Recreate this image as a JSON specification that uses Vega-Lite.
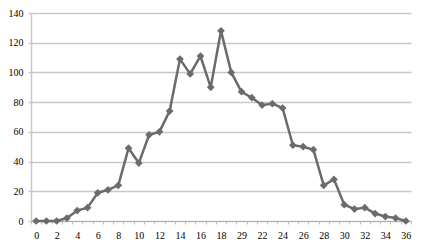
{
  "$schema": "https://vega.github.io/schema/vega-lite/v6.json",
  "width": 380,
  "height": 208,
  "autosize": "none",
  "padding": {"left": 31, "top": 13, "right": 12, "bottom": 25},
  "background": "white",
  "config": {"view": {"stroke": null}, "font": "Liberation Serif"},
  "data": {"values": [
    {"idx": 0, "v": 0}, {"idx": 1, "v": 0}, {"idx": 2, "v": 0}, {"idx": 3, "v": 2},
    {"idx": 4, "v": 7}, {"idx": 5, "v": 9}, {"idx": 6, "v": 19}, {"idx": 7, "v": 21},
    {"idx": 8, "v": 24}, {"idx": 9, "v": 49}, {"idx": 10, "v": 39}, {"idx": 11, "v": 58},
    {"idx": 12, "v": 60}, {"idx": 13, "v": 74}, {"idx": 14, "v": 109}, {"idx": 15, "v": 99},
    {"idx": 16, "v": 111}, {"idx": 17, "v": 90}, {"idx": 18, "v": 128}, {"idx": 19, "v": 100},
    {"idx": 20, "v": 87}, {"idx": 21, "v": 83}, {"idx": 22, "v": 78}, {"idx": 23, "v": 79},
    {"idx": 24, "v": 76}, {"idx": 25, "v": 51}, {"idx": 26, "v": 50}, {"idx": 27, "v": 48},
    {"idx": 28, "v": 24}, {"idx": 29, "v": 28}, {"idx": 30, "v": 11}, {"idx": 31, "v": 8},
    {"idx": 32, "v": 9}, {"idx": 33, "v": 5}, {"idx": 34, "v": 3}, {"idx": 35, "v": 2},
    {"idx": 36, "v": 0}
  ]},
  "encoding": {
    "x": {
      "field": "idx", "type": "ordinal",
      "scale": {"type": "band", "paddingInner": 0, "paddingOuter": 0},
      "axis": {
        "title": null, "labelAngle": 0, "labelOverlap": false,
        "labelExpr": "datum.value % 2 == 0 ? (datum.value == 20 ? '29' : datum.label) : ''",
        "tickBand": "extent", "ticks": true, "tickSize": 3, "tickColor": "#c0c0c0", "tickWidth": 1,
        "domainColor": "#b0b0b0", "domainWidth": 1,
        "labelFont": "Liberation Serif", "labelFontSize": 10, "labelColor": "#000",
        "labelPadding": 6, "grid": false
      }
    },
    "y": {
      "field": "v", "type": "quantitative",
      "scale": {"domain": [0, 140], "nice": false},
      "axis": {
        "title": null, "values": [0, 20, 40, 60, 80, 100, 120, 140],
        "grid": true, "gridColor": "#c8c8c8", "gridWidth": 1.5,
        "domainColor": "#c8c8c8", "domainWidth": 1.5,
        "ticks": true, "tickSize": 3, "tickColor": "#c8c8c8", "tickWidth": 1.5,
        "labelFont": "Liberation Serif", "labelFontSize": 10, "labelColor": "#000",
        "labelPadding": 5
      }
    }
  },
  "layer": [
    {"mark": {"type": "line", "color": "#6b6b6b", "strokeWidth": 2.5}},
    {"mark": {"type": "point", "shape": "diamond", "filled": true, "color": "#6b6b6b", "size": 60, "opacity": 1}}
  ]
}
